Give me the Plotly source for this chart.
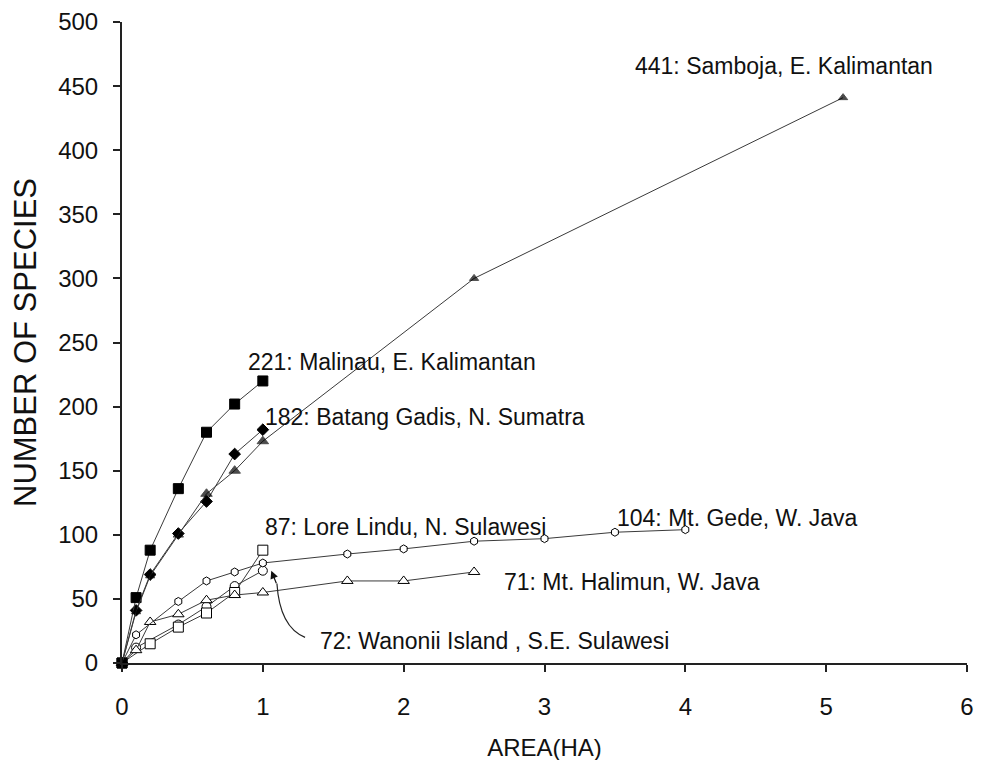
import plotly.graph_objects as go

# ---- data (area in ha, number of species) ----
area_malinau = [0, 0.1, 0.2, 0.4, 0.6, 0.8, 1.0]
sp_malinau = [0, 51, 88, 136, 180, 202, 220]

area_batang = [0, 0.1, 0.2, 0.4, 0.6, 0.8, 1.0]
sp_batang = [0, 41, 69, 101, 126, 163, 182]

area_samboja = [0, 0.1, 0.2, 0.4, 0.6, 0.8, 1.0, 2.5, 5.12]
sp_samboja = [0, 40, 68, 100, 132, 150, 173, 300, 441]

area_lore = [0, 0.2, 0.4, 0.6, 0.8, 1.0]
sp_lore = [0, 15, 28, 39, 55, 88]

area_wanonii = [0, 0.1, 0.4, 0.6, 0.8, 1.0]
sp_wanonii = [0, 12, 30, 44, 60, 72]

area_gede = [0, 0.1, 0.4, 0.6, 0.8, 1.0, 1.6, 2.0, 2.5, 3.0, 3.5, 4.0]
sp_gede = [0, 22, 48, 64, 71, 78, 85, 89, 95, 97, 102, 104]

area_halimun = [0, 0.1, 0.2, 0.4, 0.6, 0.8, 1.0, 1.6, 2.0, 2.5]
sp_halimun = [0, 10, 32, 38, 49, 53, 55, 64, 64, 71]

x_ticks = [0, 1, 2, 3, 4, 5, 6]
y_ticks = [0, 50, 100, 150, 200, 250, 300, 350, 400, 450, 500]

labels = [
    ("441: Samboja, E. Kalimantan", 3.63, 466),
    ("221: Malinau, E. Kalimantan", 0.88, 235),
    ("182: Batang Gadis, N. Sumatra", 1.0, 192),
    ("87: Lore Lindu, N. Sulawesi", 1.0, 106),
    ("104: Mt. Gede, W. Java", 3.5, 113),
    ("71: Mt. Halimun, W. Java", 2.7, 63),
    ("72: Wanonii Island , S.E. Sulawesi", 1.39, 17),
]

FONT = "Liberation Sans, Arial, sans-serif"
LINE = dict(color="#3a3a3a", width=1)

fig = go.Figure()


def add(x, y, symbol, size, fill, name, lw=1):
    fig.add_trace(go.Scatter(
        x=x, y=y, mode="lines+markers", name=name,
        line=LINE,
        marker=dict(symbol=symbol, size=size, color=fill,
                    line=dict(color="black", width=lw)),
        cliponaxis=False, showlegend=False))


add(area_wanonii, sp_wanonii, "circle", 9, "white", "Wanonii")
add(area_lore, sp_lore, "square", 10, "white", "Lore Lindu")
add(area_halimun, sp_halimun, "triangle-up", 10, "white", "Mt. Halimun")
add(area_gede, sp_gede, "hexagon", 8, "white", "Mt. Gede")
add(area_batang, sp_batang, "diamond", 9, "black", "Batang Gadis")
add(area_malinau, sp_malinau, "square", 10, "black", "Malinau")
add(area_samboja, sp_samboja, "triangle-up",
    [8, 8, 8, 9, 10, 10, 10, 8, 8], "black", "Samboja")

for text, x, y in labels:
    fig.add_annotation(x=x, y=y, text=text, showarrow=False,
                       xanchor="left", yanchor="middle",
                       font=dict(family=FONT, size=23, color="#111"))

# curved pointer for Wanonii label
fig.add_shape(type="path", path="M 1.3,20 Q 1.12,28 1.1,62",
              line=dict(color="#222", width=1.2), xref="x", yref="y")
fig.add_annotation(x=1.06, y=72, ax=1.1, ay=61, axref="x", ayref="y",
                   xref="x", yref="y", text="", showarrow=True,
                   arrowhead=2, arrowsize=1.3, arrowwidth=1.2,
                   arrowcolor="#111")

axis_common = dict(
    showline=True, linecolor="#222", linewidth=2, ticks="outside",
    ticklen=7, tickcolor="#222", tickwidth=1.5, showgrid=False,
    zeroline=False, automargin=False,
    tickfont=dict(family=FONT, size=24, color="#111"),
)

fig.update_xaxes(range=[0, 6], tickvals=x_ticks, ticklabelstandoff=14,
                 title=dict(text="AREA(HA)", standoff=20,
                            font=dict(family=FONT, size=24, color="#111")),
                 **axis_common)
fig.update_yaxes(range=[0, 500], tickvals=y_ticks, ticklabelstandoff=10,
                 title=dict(text="NUMBER OF SPECIES", standoff=16,
                            font=dict(family=FONT, size=31, color="#111")),
                 **axis_common)

fig.update_layout(
    width=983, height=760,
    margin=dict(l=114, r=24, t=14, b=105, autoexpand=False),
    paper_bgcolor="white", plot_bgcolor="white",
)

fig.write_html("out.html")
